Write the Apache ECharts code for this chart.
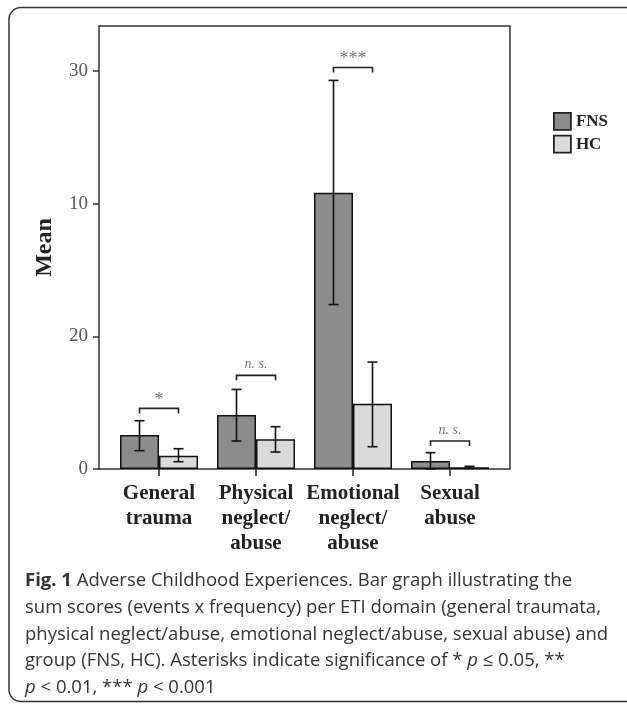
<!DOCTYPE html>
<html>
<head>
<meta charset="utf-8">
<script src="https://cdn.jsdelivr.net/npm/echarts@6/dist/echarts.min.js"></script>
<style>
html,body{margin:0;padding:0;background:#fff;}
#c{width:627px;height:704px;}
</style>
</head>
<body>
<div id="c"></div>
<script>
const categories = ['General\ntrauma', 'Physical\nneglect/\nabuse', 'Emotional\nneglect/\nabuse', 'Sexual\nabuse'];
const fnsMean = [2.56, 4.07, 20.82, 0.60];
const fnsLow  = [1.38, 2.11, 12.40, 0.00];
const fnsHigh = [3.64, 6.00, 29.30, 1.23];
const hcMean  = [1.00, 2.24, 4.92, 0.13];
const hcLow   = [0.55, 1.28, 1.68, 0.05];
const hcHigh  = [1.53, 3.19, 8.06, 0.20];
const sigLabels = ['*', 'n. s.', '***', 'n. s.'];
const sigLevel  = [4.57, 7.06, 30.27, 2.11];
const yTickLabels = ['0', '20', '10', '30'];
const captionLines = [
  '{b|Fig. 1} Adverse Childhood Experiences. Bar graph illustrating the',
  'sum scores (events x frequency) per ETI domain (general traumata,',
  'physical neglect/abuse, emotional neglect/abuse, sexual abuse) and',
  'group (FNS, HC). Asterisks indicate significance of * {i|p} \u2264 0.05, **',
  '{i|p} < 0.01, *** {i|p} < 0.001'
];

const BAR_W = 39;
const SERIF = 'Liberation Serif';
const CAP_FS = 18.5;

function errRender(offset) {
  return function (params, api) {
    const c = api.value(0);
    const x = api.coord([c, 0])[0] + offset;
    const yl = api.coord([c, api.value(1)])[1];
    const yh = api.coord([c, api.value(2)])[1];
    const st = {stroke: '#111', lineWidth: 1.6};
    return {type: 'group', children: [
      {type: 'line', shape: {x1: x, y1: yl, x2: x, y2: yh}, style: st},
      {type: 'line', shape: {x1: x - 5, y1: yh, x2: x + 5, y2: yh}, style: st},
      {type: 'line', shape: {x1: x - 5, y1: yl, x2: x + 5, y2: yl}, style: st}
    ]};
  };
}

const errFns = categories.map((_, i) => [i, fnsLow[i], fnsHigh[i]]);
const errHc = categories.map((_, i) => [i, hcLow[i], hcHigh[i]]);
const sigData = categories.map((_, i) => [i, sigLevel[i], sigLabels[i]]);

const chart = echarts.init(document.getElementById('c'), null, {renderer: 'canvas'});
chart.setOption({
  animation: false,
  backgroundColor: '#fff',
  grid: [
    {left: 99, top: 26, width: 411, height: 443, show: true, borderColor: '#333', borderWidth: 1.5, backgroundColor: 'transparent'},
    {left: 110.5, top: 26, width: 388, height: 443, show: false}
  ],
  xAxis: [
    {gridIndex: 0, type: 'value', show: false},
    {gridIndex: 1, type: 'category', data: categories,
     axisLine: {show: false},
     axisTick: {show: true, alignWithLabel: true, length: 7, lineStyle: {color: '#222', width: 1.5}},
     axisLabel: {fontFamily: SERIF, fontWeight: 'bold', fontSize: 21, color: '#222', lineHeight: 25, margin: 12, interval: 0}
    }
  ],
  yAxis: [
    {gridIndex: 0, type: 'value', show: false},
    {gridIndex: 1, type: 'value', min: 0, max: 33.4, interval: 10, offset: 11.5,
     name: 'Mean', nameLocation: 'middle', nameGap: 42, nameRotate: 90,
     nameTextStyle: {fontFamily: SERIF, fontWeight: 'bold', fontSize: 24, color: '#222'},
     splitLine: {show: false},
     axisLine: {show: false},
     axisTick: {show: true, length: 6, lineStyle: {color: '#333', width: 1.5}},
     axisLabel: {showMaxLabel: false, margin: 11, fontFamily: SERIF, fontSize: 19, color: '#555',
       formatter: function (v) { const k = Math.round(v / 10); return (Math.abs(v - k * 10) < 1e-6 && yTickLabels[k] !== undefined) ? yTickLabels[k] : ''; }}
    }
  ],
  legend: {
    orient: 'vertical', left: 548, top: 107, itemWidth: 17, itemHeight: 17, itemGap: 4, icon: 'rect',
    data: ['FNS', 'HC'],
    textStyle: {fontFamily: SERIF, fontWeight: 'bold', fontSize: 17, color: '#222', padding: [0, 0, 0, 0]},
    itemStyle: {borderColor: '#222', borderWidth: 1.8}
  },
  series: [
    {name: 'FNS', type: 'bar', xAxisIndex: 1, yAxisIndex: 1, data: fnsMean, barWidth: BAR_W, barGap: '0%',
     itemStyle: {color: '#8c8c8c', borderColor: '#111', borderWidth: 1.5}},
    {name: 'HC', type: 'bar', xAxisIndex: 1, yAxisIndex: 1, data: hcMean, barWidth: BAR_W, barGap: '0%',
     itemStyle: {color: '#dadada', borderColor: '#111', borderWidth: 1.5}},
    {name: 'errFNS', type: 'custom', xAxisIndex: 1, yAxisIndex: 1, data: errFns, renderItem: errRender(-BAR_W / 2), z: 5, clip: false},
    {name: 'errHC', type: 'custom', xAxisIndex: 1, yAxisIndex: 1, data: errHc, renderItem: errRender(BAR_W / 2), z: 5, clip: false},
    {name: 'sig', type: 'custom', xAxisIndex: 1, yAxisIndex: 1, data: sigData, z: 6, clip: false,
     renderItem: function (params, api) {
       const c = api.value(0);
       const p = api.coord([c, api.value(1)]);
       const x1 = p[0] - BAR_W / 2, x2 = p[0] + BAR_W / 2, y = p[1];
       const lab = sigLabels[params.dataIndex];
       const isNs = lab.indexOf('n') >= 0;
       return {type: 'group', children: [
         {type: 'polyline', shape: {points: [[x1, y + 5], [x1, y], [x2, y], [x2, y + 5]]}, style: {stroke: '#222', lineWidth: 1.6, fill: null}},
         {type: 'text', x: p[0], y: isNs ? y - 11 : y - 8, style: {text: lab, x: 0, y: 0, align: 'center', verticalAlign: 'middle',
           fontFamily: SERIF, fontStyle: isNs ? 'italic' : 'normal', fontSize: isNs ? 14 : 18, fill: '#777'}}
       ]};
     }}
  ],
  graphic: [
    {type: 'rect', shape: {x: 9, y: 7.5, width: 720, height: 694, r: 12}, style: {fill: null, stroke: '#333', lineWidth: 1.5}, silent: true, z: -1}
  ].concat(captionLines.map((t, i) => ({
    type: 'text', left: 25, top: 570 + i * 26.7,
    style: {text: t, fontFamily: 'Open Sans', fontSize: CAP_FS, fill: '#333', lineHeight: 22,
      rich: {b: {fontFamily: 'Open Sans', fontWeight: 'bold', fontSize: CAP_FS, fill: '#333'},
             i: {fontFamily: 'Open Sans', fontStyle: 'italic', fontSize: CAP_FS, fill: '#333'}}}
  })))
});
</script>
</body>
</html>
